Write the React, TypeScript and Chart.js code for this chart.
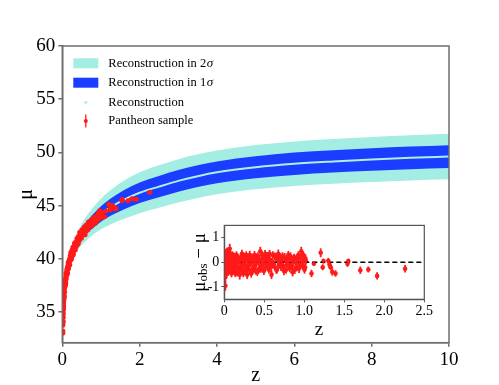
import React, { useEffect, useRef } from 'react';
import { Chart, registerables } from 'chart.js';

Chart.register(...registerables);

// ---- Reconstruction ----
const reconZ = [0.01, 0.02, 0.05, 0.1, 0.2, 0.3, 0.4, 0.5, 0.7, 1.0, 1.3, 1.6, 2.0, 2.5, 3.0, 3.5, 4.0, 5.0, 6.0, 7.0, 8.0, 9.0, 10.0];
const reconMu = [33.2, 34.72, 36.74, 38.35, 39.95, 40.95, 41.68, 42.28, 43.18, 44.2, 44.95, 45.55, 46.2, 46.78, 47.32, 47.76, 48.12, 48.6, 48.93, 49.15, 49.33, 49.48, 49.6];
const band1Hi = [33.24, 34.79, 36.86, 38.53, 40.23, 41.31, 42.12, 42.78, 43.78, 44.92, 45.77, 46.45, 47.16, 47.78, 48.34, 48.79, 49.15, 49.64, 49.98, 50.2, 50.39, 50.54, 50.67];
const band1Lo = [33.16, 34.65, 36.62, 38.17, 39.67, 40.59, 41.24, 41.78, 42.58, 43.48, 44.13, 44.65, 45.24, 45.78, 46.3, 46.73, 47.09, 47.56, 47.88, 48.1, 48.27, 48.42, 48.53];
const band2Hi = [33.28, 34.86, 36.98, 38.71, 40.51, 41.67, 42.56, 43.28, 44.38, 45.64, 46.59, 47.35, 48.12, 48.78, 49.36, 49.82, 50.18, 50.68, 51.03, 51.25, 51.45, 51.6, 51.74];
const band2Lo = [33.12, 34.58, 36.5, 37.99, 39.39, 40.23, 40.8, 41.28, 41.98, 42.76, 43.31, 43.75, 44.28, 44.78, 45.28, 45.7, 46.06, 46.52, 46.83, 47.05, 47.21, 47.36, 47.46];

// ---- Pantheon sample ----
const snZ = [
  0.010, 0.012, 0.014, 0.016, 0.018, 0.020, 0.023, 0.026, 0.029, 0.032,
  0.036, 0.040, 0.045, 0.050, 0.056, 0.062, 0.068, 0.075, 0.082, 0.090,
  0.098, 0.106, 0.115, 0.124, 0.133, 0.142, 0.152, 0.162, 0.172, 0.182,
  0.193, 0.204, 0.215, 0.226, 0.238, 0.250, 0.262, 0.274, 0.286, 0.298,
  0.311, 0.324, 0.337, 0.350, 0.364, 0.378, 0.392, 0.406, 0.420, 0.435,
  0.450, 0.465, 0.480, 0.495, 0.510, 0.526, 0.542, 0.558, 0.574, 0.590,
  0.607, 0.624, 0.641, 0.658, 0.675, 0.692, 0.710, 0.728, 0.746, 0.764,
  0.782, 0.800, 0.818, 0.836, 0.854, 0.872, 0.890, 0.908, 0.926, 0.944,
  0.962, 0.980, 0.995, 1.010, 1.020,
  1.09, 1.12, 1.205, 1.23, 1.24, 1.30, 1.315, 1.33, 1.35, 1.39, 1.54, 1.55, 1.70, 1.80, 1.91, 2.26,
  0.011, 0.013, 0.015, 0.017, 0.019, 0.021, 0.0245, 0.0275, 0.0305, 0.034,
  0.038, 0.0425, 0.0475, 0.053, 0.059, 0.065, 0.0715, 0.0785, 0.086, 0.094,
  0.102, 0.1105, 0.1195, 0.1285, 0.1375, 0.147, 0.157, 0.167, 0.177, 0.1875,
  0.1985, 0.2095, 0.2205, 0.232, 0.244, 0.256, 0.268, 0.28, 0.292, 0.3045,
  0.3175, 0.3305, 0.3435, 0.357, 0.371, 0.385, 0.399, 0.413, 0.4275, 0.4425,
  0.4575, 0.4725, 0.4875, 0.5025, 0.518, 0.534, 0.55, 0.566, 0.582, 0.5985,
  0.6155, 0.6325, 0.6495, 0.6665, 0.6835, 0.701, 0.719, 0.737, 0.755, 0.773,
  0.791, 0.809, 0.827, 0.845, 0.863, 0.881, 0.899, 0.917, 0.935, 0.953,
  0.971, 0.9875, 1.0025, 1.015,
];
const snMu = [
  33.13, 33.83, 33.01, 34.51, 34.02, 35.10, 34.86, 35.73, 35.27, 35.89,
  36.50, 36.14, 36.85, 36.39, 37.19, 37.67, 38.03, 37.46, 37.96, 37.67,
  38.62, 38.40, 38.94, 38.52, 39.13, 38.99, 39.65, 39.10, 39.69, 39.53,
  39.42, 40.26, 39.88, 40.46, 39.98, 40.80, 40.52, 41.08, 40.39, 41.04,
  40.80, 41.40, 40.85, 41.49, 41.29, 41.89, 41.33, 41.77, 42.11, 41.70,
  42.49, 42.02, 42.36, 41.94, 42.71, 42.39, 42.72, 42.29, 42.77, 42.24,
  43.12, 42.74, 43.16, 42.73, 43.45, 43.17, 43.04, 43.55, 43.02, 43.53,
  43.39, 43.85, 43.36, 43.82, 43.33, 43.98, 43.84, 43.69, 44.25, 43.90,
  44.50, 43.95, 44.24, 43.98, 44.26,
  43.95, 44.45, 45.11, 44.58, 44.85, 45.01, 44.89, 44.83, 44.68, 44.71, 45.44, 45.57, 45.45, 45.63, 45.60, 46.24,
  33.74, 33.20, 34.12, 34.14, 34.74, 34.46, 35.35, 35.35, 35.93, 35.57,
  36.22, 36.62, 36.47, 37.27, 36.86, 37.38, 37.50, 38.06, 37.82, 38.37,
  38.11, 38.65, 38.63, 39.15, 38.66, 39.37, 39.38, 39.77, 39.36, 39.95,
  39.99, 39.92, 40.59, 40.27, 40.54, 40.26, 40.82, 40.63, 41.09, 40.94,
  41.45, 41.20, 41.55, 41.14, 41.59, 41.49, 41.93, 41.42, 41.96, 42.10,
  41.83, 42.47, 42.20, 42.42, 42.20, 42.73, 42.46, 42.98, 42.51, 42.78,
  42.81, 43.18, 42.70, 43.17, 43.03, 43.40, 43.32, 43.19, 43.60, 43.16,
  43.67, 43.53, 43.89, 43.55, 43.80, 43.51, 44.01, 44.02, 43.72, 44.22,
  44.02, 44.42, 43.86, 44.34,
];
const snRes = [
  -0.10, 0.20, -0.95, 0.25, -0.5, 0.35, -0.2, 0.4, -0.3, 0.1,
  0.45, -0.15, 0.3, -0.4, 0.15, 0.4, 0.55, -0.25, 0.05, -0.45,
  0.3, -0.1, 0.25, -0.35, 0.1, -0.2, 0.3, -0.4, 0.05, -0.25,
  -0.5, 0.2, -0.3, 0.15, -0.45, 0.25, -0.15, 0.3, -0.5, 0.05,
  -0.3, 0.2, -0.45, 0.1, -0.2, 0.3, -0.35, 0.0, 0.25, -0.25,
  0.45, -0.1, 0.15, -0.35, 0.35, -0.05, 0.2, -0.3, 0.1, -0.5,
  0.3, -0.15, 0.2, -0.3, 0.35, 0.0, -0.2, 0.25, -0.35, 0.1,
  -0.1, 0.3, -0.25, 0.15, -0.4, 0.2, 0.0, -0.2, 0.3, -0.1,
  0.45, -0.15, 0.1, -0.2, 0.05,
  -0.45, -0.05, 0.39, -0.2, 0.05, 0.06, -0.1, -0.2, -0.39, -0.45, -0.06, 0.05, -0.32, -0.29, -0.55, -0.26,
  0.3, -0.6, 0.0, -0.25, 0.1, -0.4, 0.15, -0.1, 0.25, -0.35,
  0.05, 0.2, -0.2, 0.35, -0.3, 0.0, -0.1, 0.25, -0.2, 0.15,
  -0.3, 0.05, -0.15, 0.2, -0.45, 0.1, -0.05, 0.2, -0.35, 0.1,
  0.0, -0.2, 0.35, -0.1, 0.05, -0.35, 0.1, -0.2, 0.15, -0.1,
  0.3, -0.05, 0.2, -0.3, 0.05, -0.15, 0.2, -0.4, 0.05, 0.1,
  -0.25, 0.3, -0.05, 0.1, -0.2, 0.25, -0.1, 0.35, -0.2, 0.0,
  -0.05, 0.25, -0.3, 0.1, -0.1, 0.2, 0.05, -0.15, 0.2, -0.3,
  0.15, -0.05, 0.25, -0.15, 0.05, -0.3, 0.15, 0.1, -0.25, 0.2,
  -0.05, 0.3, -0.3, 0.15,
];
const snErr = [
  0.18, 0.15, 0.2, 0.16, 0.15, 0.18, 0.14, 0.16, 0.15, 0.17,
  0.15, 0.14, 0.16, 0.15, 0.17, 0.15, 0.2, 0.14, 0.15, 0.16,
  0.15, 0.14, 0.16, 0.15, 0.14, 0.16, 0.15, 0.17, 0.14, 0.15,
  0.2, 0.15, 0.14, 0.16, 0.15, 0.14, 0.16, 0.15, 0.18, 0.14,
  0.15, 0.16, 0.17, 0.14, 0.15, 0.16, 0.15, 0.14, 0.16, 0.15,
  0.18, 0.14, 0.15, 0.16, 0.15, 0.14, 0.16, 0.15, 0.14, 0.18,
  0.15, 0.14, 0.16, 0.15, 0.17, 0.14, 0.15, 0.16, 0.17, 0.14,
  0.15, 0.16, 0.15, 0.14, 0.17, 0.15, 0.14, 0.16, 0.15, 0.14,
  0.18, 0.15, 0.14, 0.16, 0.15,
  0.15, 0.1, 0.18, 0.12, 0.1, 0.12, 0.15, 0.12, 0.15, 0.13, 0.12, 0.1, 0.15, 0.12, 0.15, 0.15,
  0.2, 0.18, 0.15, 0.17, 0.16, 0.2, 0.15, 0.17, 0.16, 0.18,
  0.15, 0.17, 0.16, 0.18, 0.15, 0.17, 0.16, 0.15, 0.18, 0.16,
  0.17, 0.15, 0.16, 0.18, 0.15, 0.17, 0.16, 0.15, 0.18, 0.16,
  0.17, 0.15, 0.16, 0.18, 0.15, 0.17, 0.16, 0.15, 0.18, 0.16,
  0.17, 0.15, 0.16, 0.18, 0.15, 0.17, 0.16, 0.15, 0.18, 0.16,
  0.17, 0.15, 0.16, 0.18, 0.15, 0.17, 0.16, 0.15, 0.18, 0.16,
  0.17, 0.15, 0.16, 0.18, 0.15, 0.17, 0.16, 0.15, 0.18, 0.16,
  0.17, 0.15, 0.16, 0.18, 0.15, 0.17, 0.16, 0.15, 0.18, 0.16,
  0.17, 0.15, 0.16, 0.18,
];

// ---- Axes / labels ----
const mainXTicks = [0, 2, 4, 6, 8, 10];
const mainYTicks = [35, 40, 45, 50, 55, 60];
const insetXTicks = [0, 0.5, 1, 1.5, 2, 2.5];
const insetXLabels = ['0', '0.5', '1.0', '1.5', '2.0', '2.5'];
const insetYTicks = [-1, 0, 1];
const legendLabels = ['Reconstruction in 2', 'Reconstruction in 1', 'Reconstruction', 'Pantheon sample'];

const FONT = '"Liberation Serif", "DejaVu Serif", serif';
const C2 = '#a3ede3';
const C1 = '#1a3dff';
const CLINE = '#aef0e6';
const RED = '#ff1a1a';
const FRAME = '#6e6e6e';

const errorBarPlugin = {
  id: 'errorBars',
  afterDatasetsDraw(chart: any) {
    const ctx = chart.ctx;
    const ys = chart.scales.y;
    chart.data.datasets.forEach((ds: any, i: number) => {
      if (!ds.errors) return;
      const meta = chart.getDatasetMeta(i);
      ctx.save();
      ctx.strokeStyle = ds.borderColor;
      ctx.lineWidth = ds.errWidth || 1.2;
      meta.data.forEach((pt: any, j: number) => {
        const d = ds.data[j];
        const t = ys.getPixelForValue(d.y + ds.errors[j]);
        const b = ys.getPixelForValue(d.y - ds.errors[j]);
        ctx.beginPath();
        ctx.moveTo(pt.x, t);
        ctx.lineTo(pt.x, b);
        ctx.stroke();
      });
      ctx.restore();
    });
  },
};

const mainDecor = {
  id: 'mainDecor',
  beforeDraw(chart: any) {
    const ctx = chart.ctx;
    ctx.save();
    ctx.fillStyle = '#fff';
    ctx.fillRect(0, 0, chart.width, chart.height);
    ctx.restore();
  },
  afterDraw(chart: any) {
    const ctx = chart.ctx;
    const a = chart.chartArea;
    ctx.save();
    ctx.strokeStyle = FRAME;
    ctx.lineWidth = 1.5;
    ctx.strokeRect(a.left, a.top, a.right - a.left, a.bottom - a.top);

    ctx.fillStyle = '#000';
    ctx.font = `20px ${FONT}`;
    ctx.textAlign = 'center';
    ctx.textBaseline = 'middle';
    ctx.fillText('z', (a.left + a.right) / 2, 376);
    ctx.save();
    ctx.translate(27, (a.top + a.bottom) / 2);
    ctx.rotate(-Math.PI / 2);
    ctx.fillText('μ', 0, 0);
    ctx.restore();

    // legend
    const sx = 73.3, sw = 25, tx = 108.3;
    const rows = [63.3, 82.7, 102.3, 121];
    ctx.fillStyle = C2;
    ctx.fillRect(sx, rows[0] - 5, sw, 10);
    ctx.fillStyle = C1;
    ctx.fillRect(sx, rows[1] - 5, sw, 10);
    ctx.fillStyle = CLINE;
    ctx.beginPath();
    ctx.arc(sx + sw / 2, rows[2], 1.6, 0, Math.PI * 2);
    ctx.fill();
    ctx.strokeStyle = RED;
    ctx.lineWidth = 1.3;
    ctx.beginPath();
    ctx.moveTo(sx + sw / 2, rows[3] - 6.5);
    ctx.lineTo(sx + sw / 2, rows[3] + 6.5);
    ctx.stroke();
    ctx.fillStyle = RED;
    ctx.beginPath();
    ctx.arc(sx + sw / 2, rows[3], 2, 0, Math.PI * 2);
    ctx.fill();

    ctx.fillStyle = '#000';
    ctx.textAlign = 'left';
    ctx.textBaseline = 'middle';
    legendLabels.forEach((lab, i) => {
      ctx.font = `12.5px ${FONT}`;
      ctx.fillText(lab, tx, rows[i]);
      if (i < 2) {
        const w = ctx.measureText(lab).width;
        ctx.font = `italic 13px ${FONT}`;
        ctx.fillText('σ', tx + w + 0.5, rows[i]);
      }
    });
    ctx.restore();
  },
};

const insetDecor = {
  id: 'insetDecor',
  beforeDraw(chart: any) {
    const ctx = chart.ctx;
    ctx.save();
    ctx.fillStyle = '#fff';
    ctx.fillRect(0, 0, chart.width, chart.height);
    ctx.restore();
  },
  afterDatasetsDraw(chart: any) {
    const ctx = chart.ctx;
    const a = chart.chartArea;
    const y0 = chart.scales.y.getPixelForValue(0);
    ctx.save();
    ctx.strokeStyle = '#000';
    ctx.lineWidth = 1.5;
    ctx.setLineDash([5, 3]);
    ctx.beginPath();
    ctx.moveTo(a.left, y0);
    ctx.lineTo(a.right, y0);
    ctx.stroke();
    ctx.restore();
  },
  afterDraw(chart: any) {
    const ctx = chart.ctx;
    const a = chart.chartArea;
    ctx.save();
    ctx.strokeStyle = '#555';
    ctx.lineWidth = 1.2;
    ctx.strokeRect(a.left, a.top, a.right - a.left, a.bottom - a.top);
    ctx.fillStyle = '#000';
    ctx.font = `19px ${FONT}`;
    ctx.textAlign = 'center';
    ctx.textBaseline = 'middle';
    ctx.fillText('z', 134, 115);

    // rotated y label: μ_obs − μ
    ctx.translate(15, (a.top + a.bottom) / 2);
    ctx.rotate(-Math.PI / 2);
    const big = `19px ${FONT}`;
    const small = `13px ${FONT}`;
    const parts = [
      { t: 'μ', f: big, dy: 0 },
      { t: 'obs', f: small, dy: 4 },
      { t: ' − μ', f: big, dy: 0 },
    ];
    let total = 0;
    parts.forEach((p) => { ctx.font = p.f; total += ctx.measureText(p.t).width; });
    let x = -total / 2;
    ctx.textAlign = 'left';
    ctx.textBaseline = 'middle';
    parts.forEach((p) => {
      ctx.font = p.f;
      ctx.fillText(p.t, x, p.dy);
      x += ctx.measureText(p.t).width;
    });
    ctx.restore();
  },
};

export default function App() {
  const mainRef = useRef<HTMLCanvasElement>(null);
  const insetRef = useRef<HTMLCanvasElement>(null);

  useEffect(() => {
    const xy = (xs: number[], ys: number[]) => xs.map((x, i) => ({ x, y: ys[i] }));
    const bandCommon = {
      pointRadius: 0,
      borderWidth: 0,
      cubicInterpolationMode: 'monotone' as const,
    };
    const mainChart = new Chart(mainRef.current!, {
      type: 'scatter',
      data: {
        datasets: [
          {
            label: 'Pantheon sample',
            data: xy(snZ, snMu),
            errors: snErr,
            errWidth: 1.5,
            borderColor: RED,
            backgroundColor: RED,
            pointRadius: 2.5,
            pointBorderWidth: 0,
            showLine: false,
            order: 0,
          } as any,
          {
            label: 'Reconstruction',
            data: xy(reconZ, reconMu),
            showLine: true,
            borderColor: CLINE,
            borderWidth: 2,
            pointRadius: 0,
            cubicInterpolationMode: 'monotone',
            order: 1,
          },
          { ...bandCommon, label: '1σ hi', data: xy(reconZ, band1Hi), showLine: true, fill: '+1', backgroundColor: C1, borderColor: C1, order: 2 },
          { ...bandCommon, label: '1σ lo', data: xy(reconZ, band1Lo), showLine: true, fill: false, borderColor: C1, order: 3 },
          { ...bandCommon, label: '2σ hi', data: xy(reconZ, band2Hi), showLine: true, fill: '+1', backgroundColor: C2, borderColor: C2, order: 4 },
          { ...bandCommon, label: '2σ lo', data: xy(reconZ, band2Lo), showLine: true, fill: false, borderColor: C2, order: 5 },
        ],
      },
      options: {
        animation: false,
        responsive: false,
        devicePixelRatio: 1,
        layout: { padding: { left: 0, right: 50, top: 46, bottom: 0 } },
        plugins: { legend: { display: false }, tooltip: { enabled: false } },
        scales: {
          x: {
            type: 'linear',
            min: 0,
            max: 10,
            afterBuildTicks: (s: any) => { s.ticks = mainXTicks.map((v) => ({ value: v })); },
            afterFit: (s: any) => { s.height = 42.3; },
            grid: { display: true, drawOnChartArea: false, drawTicks: true, tickLength: 4, color: FRAME, lineWidth: 1.5 },
            border: { display: true, color: FRAME, width: 1.5 },
            ticks: { color: '#000', font: { family: FONT, size: 19 }, padding: 2, maxRotation: 0 },
          },
          y: {
            type: 'linear',
            min: 32.1,
            max: 60,
            afterBuildTicks: (s: any) => { s.ticks = mainYTicks.map((v) => ({ value: v })); },
            afterFit: (s: any) => { s.width = 62.3; },
            grid: { display: true, drawOnChartArea: false, drawTicks: true, tickLength: 4, color: FRAME, lineWidth: 1.5 },
            border: { display: true, color: FRAME, width: 1.5 },
            ticks: { color: '#000', font: { family: FONT, size: 19 }, padding: 3 },
          },
        },
      },
      plugins: [mainDecor, errorBarPlugin],
    });

    const insetChart = new Chart(insetRef.current!, {
      type: 'scatter',
      data: {
        datasets: [
          {
            label: 'residual',
            data: xy(snZ, snRes),
            errors: snErr,
            errWidth: 1.8,
            borderColor: RED,
            backgroundColor: RED,
            pointRadius: 2.3,
            pointBorderWidth: 0,
            showLine: false,
          } as any,
        ],
      },
      options: {
        animation: false,
        responsive: false,
        devicePixelRatio: 1,
        layout: { padding: { left: 0, right: 10.7, top: 8.3, bottom: 0 } },
        plugins: { legend: { display: false }, tooltip: { enabled: false } },
        scales: {
          x: {
            type: 'linear',
            min: 0,
            max: 2.5,
            afterBuildTicks: (s: any) => { s.ticks = insetXTicks.map((v) => ({ value: v })); },
            afterFit: (s: any) => { s.height = 40.7; },
            grid: { display: true, drawOnChartArea: false, drawTicks: true, tickLength: 3, color: '#555' },
            border: { display: true, color: '#555', width: 1.2 },
            ticks: {
              color: '#000',
              font: { family: FONT, size: 14 },
              padding: 1,
              maxRotation: 0,
              callback: (v: any) => insetXLabels[insetXTicks.indexOf(Number(v))] ?? '',
            },
          },
          y: {
            type: 'linear',
            min: -1.5,
            max: 1.5,
            afterBuildTicks: (s: any) => { s.ticks = insetYTicks.map((v) => ({ value: v })); },
            afterFit: (s: any) => { s.width = 39.3; },
            grid: { display: true, drawOnChartArea: false, drawTicks: true, tickLength: 3, color: '#555' },
            border: { display: true, color: '#555', width: 1.2 },
            ticks: { color: '#000', font: { family: FONT, size: 14 }, padding: 2 },
          },
        },
      },
      plugins: [insetDecor, errorBarPlugin],
    });

    return () => {
      mainChart.destroy();
      insetChart.destroy();
    };
  }, []);

  return (
    <div style={{ position: 'fixed', left: 0, top: 0, width: 499, height: 385, background: '#fff' }}>
      <canvas ref={mainRef} width={499} height={385} style={{ position: 'absolute', left: 0, top: 0 }} />
      <canvas ref={insetRef} width={250} height={125} style={{ position: 'absolute', left: 185, top: 215 }} />
    </div>
  );
}
